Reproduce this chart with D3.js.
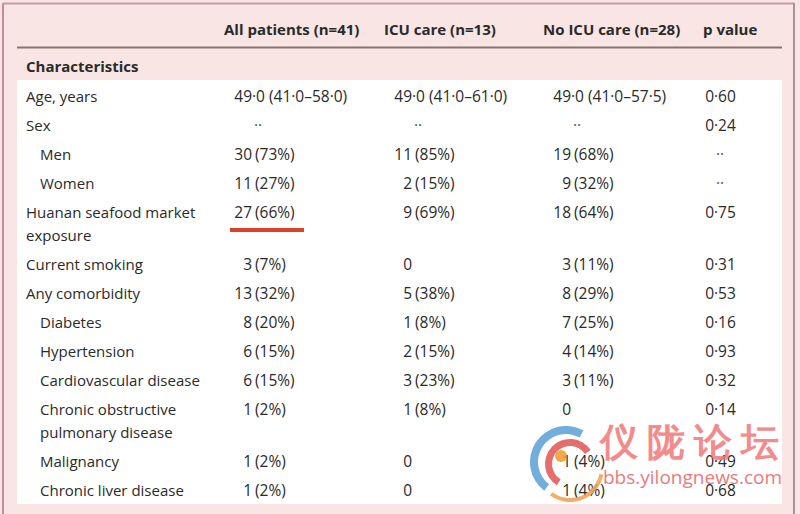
<!DOCTYPE html>
<html>
<head>
<meta charset="utf-8">
<script src="https://cdn.jsdelivr.net/npm/d3@7"></script>
<style>
  html, body { margin: 0; padding: 0; background: #fff; }
  svg { display: block; }
  text { font-family: "Open Sans", "Noto Sans", sans-serif; }
</style>
</head>
<body>
<svg id="chart" width="800" height="514"></svg>
<script>
// ---------------- data ----------------
const columns = ["All patients (n=41)", "ICU care (n=13)", "No ICU care (n=28)", "p value"];
const sectionTitle = "Characteristics";
const rowLabels = [
  "Age, years", "Sex", "Men", "Women", "Huanan seafood market\nexposure",
  "Current smoking", "Any comorbidity", "Diabetes", "Hypertension",
  "Cardiovascular disease", "Chronic obstructive\npulmonary disease",
  "Malignancy", "Chronic liver disease"
];
const subRows = ["Men", "Women", "Diabetes", "Hypertension", "Cardiovascular disease",
  "Chronic obstructive\npulmonary disease", "Malignancy", "Chronic liver disease"];
const allPatients = ["49·0 (41·0–58·0)", "··", "30 (73%)", "11 (27%)", "27 (66%)", "3 (7%)",
  "13 (32%)", "8 (20%)", "6 (15%)", "6 (15%)", "1 (2%)", "1 (2%)", "1 (2%)"];
const icuCare = ["49·0 (41·0–61·0)", "··", "11 (85%)", "2 (15%)", "9 (69%)", "0",
  "5 (38%)", "1 (8%)", "2 (15%)", "3 (23%)", "1 (8%)", "0", "0"];
const noIcuCare = ["49·0 (41·0–57·5)", "··", "19 (68%)", "9 (32%)", "18 (64%)", "3 (11%)",
  "8 (29%)", "7 (25%)", "4 (14%)", "3 (11%)", "0", "1 (4%)", "1 (4%)"];
const pValues = ["0·60", "0·24", "··", "··", "0·75", "0·31", "0·53", "0·16", "0·93",
  "0·32", "0·14", "0·49", "0·68"];
const highlighted = { row: "Huanan seafood market\nexposure", column: "All patients (n=41)" };
const watermarkTitle = "仪陇论坛";
const watermarkUrl = "bbs.yilongnews.com";

// ---------------- layout ----------------
const svg = d3.select("#chart");
const W = 800, H = 514;
const textColor = "#2a2a2a";
const labelSize = 15;
const valueSize = 15.5;

const colValues = [allPatients, icuCare, noIcuCare, pValues];
const headerX = d3.scaleOrdinal().domain(columns).range([224, 384, 543, 703]);
const anchorX = d3.scaleOrdinal().domain(columns).range([252, 412, 571, 714]);

const rowLines = rowLabels.map(l => l.split("\n").length);
const extraBefore = [];
let ex = 0;
rowLines.forEach((n) => { extraBefore.push(ex); ex += n - 1; });
const rowScale = d3.scaleLinear().domain([0, 1]).range([101.5, 130.5]);
const lineStep = 23;
const rowY = i => rowScale(i) + extraBefore[i] * lineStep;

// background
svg.append("rect").attr("x", 0).attr("y", 0).attr("width", W).attr("height", H).attr("fill", "#f9e6e4");
svg.append("line").attr("x1", 3).attr("x2", 3).attr("y1", 3).attr("y2", H).attr("stroke", "#c98b9b").attr("stroke-width", 2);
svg.append("line").attr("x1", 3).attr("x2", 794).attr("y1", 3.5).attr("y2", 3.5).attr("stroke", "#c39aa5").attr("stroke-width", 2);
svg.append("line").attr("x1", 794).attr("x2", 794).attr("y1", 3).attr("y2", H).attr("stroke", "#ab919b").attr("stroke-width", 2);

// white body
svg.append("rect").attr("x", 17).attr("y", 80).attr("width", 765).attr("height", 424).attr("fill", "#ffffff");

// header rule
svg.append("line").attr("x1", 17).attr("x2", 782).attr("y1", 47.5).attr("y2", 47.5)
  .attr("stroke", "#86756f").attr("stroke-width", 2);

// headers
svg.append("g").selectAll("text").data(columns).join("text")
  .attr("x", d => headerX(d)).attr("y", 35)
  .attr("font-size", labelSize).attr("font-weight", 700).attr("fill", textColor)
  .text(d => d);

svg.append("text").attr("x", 26).attr("y", 72)
  .attr("font-size", labelSize).attr("font-weight", 700).attr("fill", textColor)
  .text(sectionTitle);

// row labels
const labelG = svg.append("g");
rowLabels.forEach((lab, i) => {
  const indent = subRows.includes(lab) ? 40 : 26;
  lab.split("\n").forEach((line, k) => {
    labelG.append("text").attr("x", indent).attr("y", rowY(i) + k * lineStep)
      .attr("font-size", labelSize).attr("fill", textColor).text(line);
  });
});

// values: integer part right-aligned on the column anchor, rest follows
const valG = svg.append("g");
columns.forEach((col, c) => {
  colValues[c].forEach((v, i) => {
    const y = rowY(i);
    const ax = anchorX(col);
    const m = v.match(/^(\d+)(.*)$/);
    if (m) {
      valG.append("text").attr("x", ax).attr("y", y).attr("text-anchor", "end")
        .attr("font-size", valueSize).attr("fill", textColor).text(m[1]);
      const rest = m[2];
      if (rest) {
        const gap = rest.startsWith(" ") ? 3 : 0;
        valG.append("text").attr("x", ax + gap).attr("y", y).attr("text-anchor", "start")
          .attr("font-size", valueSize).attr("fill", textColor).text(rest.trim());
      }
    } else {
      valG.append("text").attr("x", ax + 2).attr("y", y).attr("text-anchor", "start")
        .attr("font-size", valueSize).attr("fill", "#555").text(v);
    }
  });
});

// highlight underline
const hi = rowLabels.indexOf(highlighted.row);
svg.append("rect").attr("x", 230).attr("y", rowY(hi) + 10.5).attr("width", 74).attr("height", 4)
  .attr("fill", "#d8432b");

// ---------------- watermark ----------------
const wm = svg.append("g").attr("opacity", 0.85);
const lc = [566, 462];
const arcGen = d3.arc();
wm.append("path")
  .attr("d", arcGen({ innerRadius: 28, outerRadius: 36, startAngle: 0.3, endAngle: Math.PI * 1.05 }))
  .attr("fill", "#5aa0d6").attr("transform", `translate(${lc[0]},${lc[1]}) rotate(200)`);
wm.append("path")
  .attr("d", arcGen({ innerRadius: 18, outerRadius: 25, startAngle: 0.2, endAngle: Math.PI * 1.2 }))
  .attr("fill", "#e05555").attr("transform", `translate(${lc[0] + 4},${lc[1] + 2}) rotate(200)`);
wm.append("path")
  .attr("d", arcGen({ innerRadius: 30, outerRadius: 34, startAngle: 0.2, endAngle: Math.PI * 0.7 }))
  .attr("fill", "#f0a050").attr("transform", `translate(${lc[0] + 4},${lc[1] + 6}) rotate(90)`);
wm.append("circle").attr("cx", lc[0] - 5).attr("cy", lc[1] - 6).attr("r", 6).attr("fill", "#f39a2b");

wm.append("text").attr("x", 600).attr("y", 455)
  .attr("font-family", "'Noto Sans CJK SC', sans-serif").attr("font-size", 38).attr("font-weight", 700)
  .attr("fill", "#f07878").attr("letter-spacing", 9).text(watermarkTitle);
wm.append("text").attr("x", 603).attr("y", 484)
  .attr("font-family", "Arial, 'Liberation Sans', sans-serif").attr("font-size", 19)
  .attr("fill", "#e86565").text(watermarkUrl);
</script>
</body>
</html>
